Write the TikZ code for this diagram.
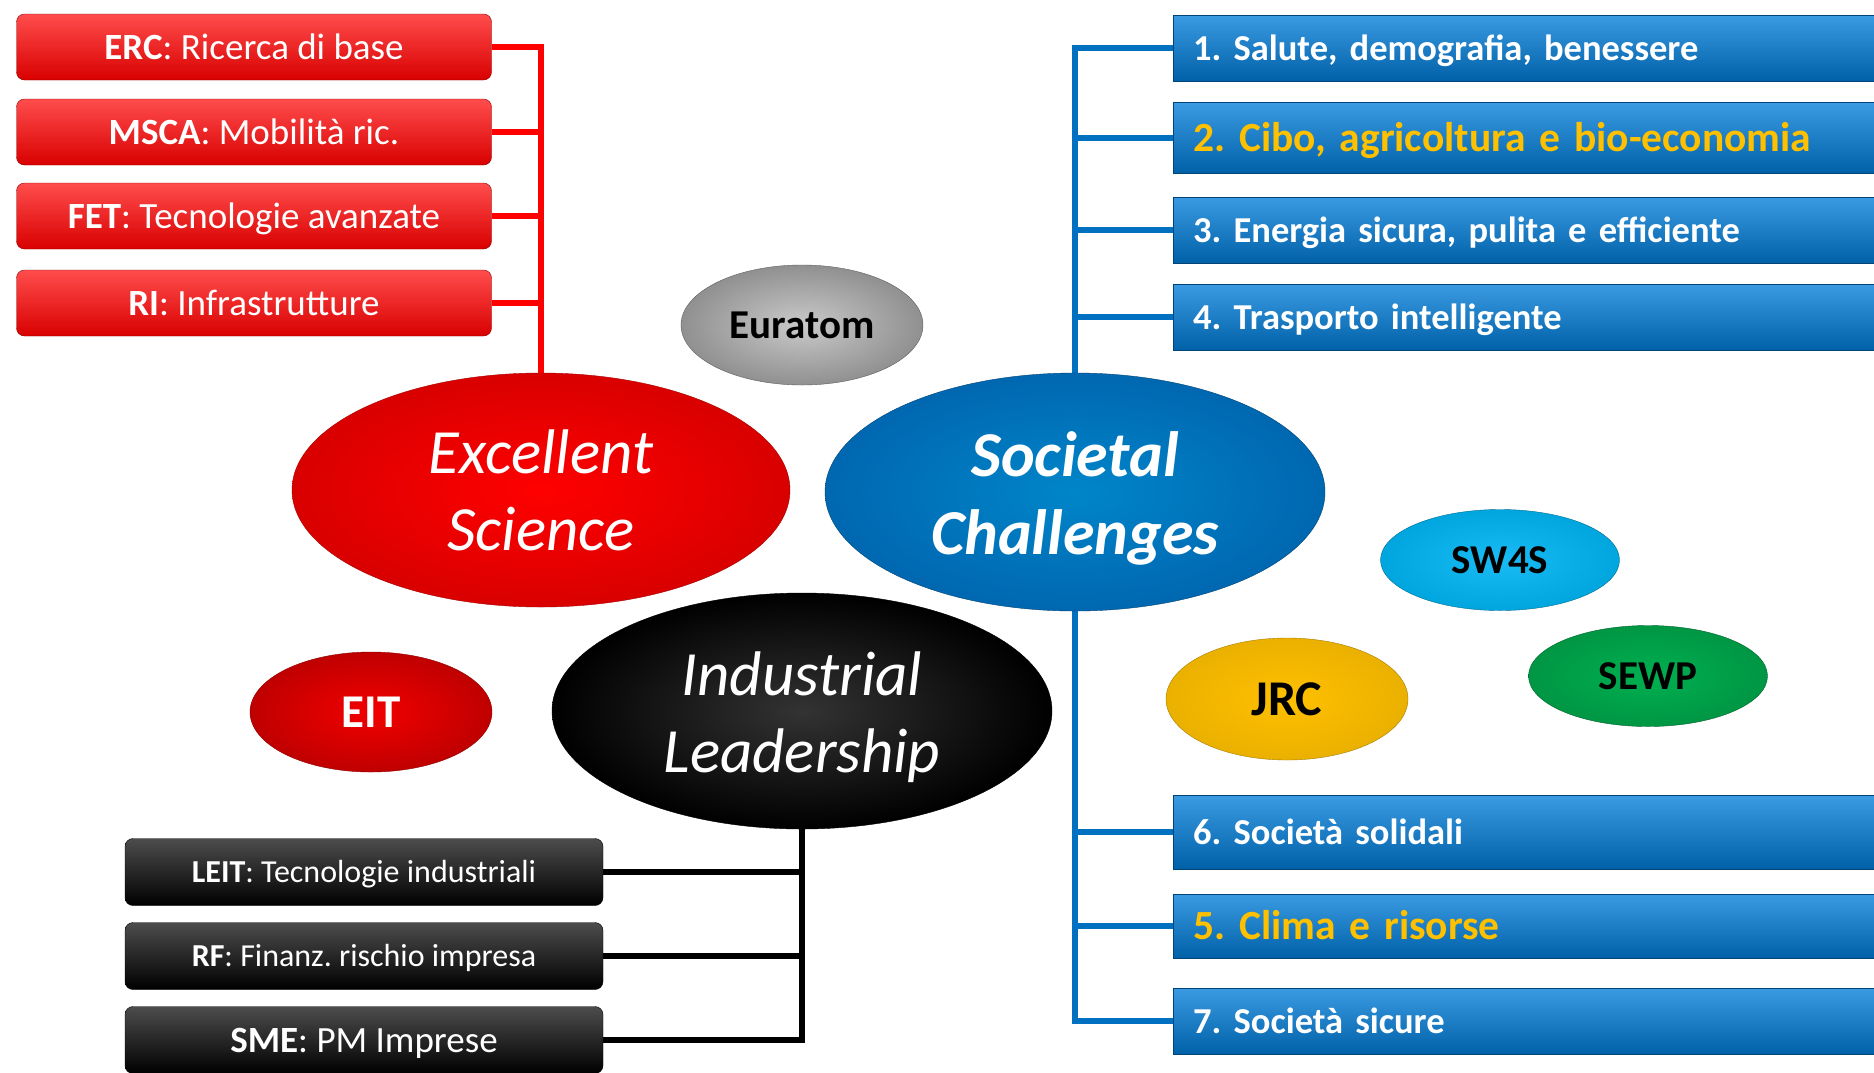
\documentclass[tikz,border=0pt]{standalone}
\usepackage{fontspec}
\setmainfont{Carlito}
\usetikzlibrary{shapes.geometric,backgrounds}
\frenchspacing

\definecolor{esred}{HTML}{FF0000}
\definecolor{scblue}{HTML}{0070C0}
\definecolor{sctop}{HTML}{3A9BE2}
\definecolor{scbot}{HTML}{0060A8}
\definecolor{hlyellow}{HTML}{FFC000}
\definecolor{swcyan}{HTML}{00B4F2}
\definecolor{jrcgold}{HTML}{FFC000}
\definecolor{sewpgreen}{HTML}{00B050}
\definecolor{eurgray}{HTML}{C0C0C0}

\tikzset{
  redbox/.style={rectangle, rounded corners=8pt, minimum width=475pt, minimum height=66pt,
    top color=esred!70!white, middle color=esred, bottom color=esred!85!black,
    draw=esred!55!black, text=white, text height=24pt, text depth=0pt,
    font=\fontsize{37}{40}\selectfont},
  blackbox/.style={rectangle, rounded corners=8pt, minimum width=478pt, minimum height=67pt,
    top color=black!70, middle color=black, bottom color=black,
    draw=black, text=white, text height=21pt, text depth=0pt,
    font=\fontsize{32}{36}\selectfont},
  bluebox/.style={rectangle, anchor=west, text width=690pt, inner xsep=20pt, align=left,
    minimum height=66pt, top color=sctop, middle color=scblue, bottom color=scbot,
    draw=scbot!70!black, text=white, text height=24pt, text depth=0pt,
    font=\fontsize{36.5}{40}\selectfont\bfseries},
  hlbox/.style={text=hlyellow, text height=27pt, font=\fontsize{41.5}{45}\selectfont\bfseries},
  bigblob/.style={ellipse, inner sep=0pt, minimum width=500pt, minimum height=236pt,
    text=white, align=center, font=\fontsize{63}{77}\selectfont\itshape},
  blob/.style={ellipse, inner sep=0pt, minimum width=242pt, minimum height=120pt,
    text=black, text height=26pt, text depth=0pt, font=\fontsize{41}{44}\selectfont\bfseries},
  esline/.style={draw=esred, line width=6pt},
  scline/.style={draw=scblue, line width=6pt},
  illine/.style={draw=black, line width=6pt}
}

\begin{document}
\begin{tikzpicture}[x=1pt,y=-1pt]
\useasboundingbox (0,0) rectangle (1874,1072);
\clip (0,0) rectangle (1874,1072);

% the three pillars
\node[bigblob, inner color=esred, outer color=esred!85!black, draw=esred!65!black,
  minimum width=498pt, minimum height=234pt] (es) at (541,490) {Excellent\\Science};
\node[bigblob, inner color=scblue!85!cyan, outer color=scblue!92!black, draw=scblue!60!black,
  font=\fontsize{64}{78}\selectfont\bfseries\itshape, minimum height=238pt] (sc) at (1075,492)
  {\rule{0pt}{58pt}Societal\\Challenges};
\node[bigblob, inner color=black!80, outer color=black, draw=black] (il) at (802,711)
  {\rule{0pt}{57pt}Industrial\\Leadership};

% small programmes
\node[blob, inner color=eurgray!85!white, outer color=eurgray!75!black, draw=eurgray!50!black] (eur) at (802,325) {Euratom};
\node[blob, inner color=esred!95!black, outer color=esred!75!black, draw=esred!55!black,
  text=white, text height=30pt, font=\fontsize{47}{50}\selectfont\bfseries] (eit) at (371,712) {EIT};
\node[blob, inner color=swcyan!90!white, outer color=swcyan!92!black, draw=swcyan!60!black,
  minimum width=239pt, minimum height=101pt] (sw4s) at (1500,560) {SW4S};
\node[blob, inner color=jrcgold, outer color=jrcgold!92!black, draw=jrcgold!65!black,
  minimum height=122pt, text height=32pt, font=\fontsize{50}{54}\selectfont\bfseries] (jrc) at (1287,699) {JRC};
\node[blob, inner color=sewpgreen, outer color=sewpgreen!85!black, draw=sewpgreen!55!black,
  minimum width=239pt, minimum height=101pt] (sewp) at (1648,676) {SEWP};

% Excellent Science
\node[redbox] (erc) at (254,47) {\textbf{ERC}: Ricerca di base};
\node[redbox] (msca) at (254,132) {\textbf{MSCA}: Mobilità ric.};
\node[redbox] (fet) at (254,216) {\textbf{FET}: Tecnologie avanzate};
\node[redbox] (ri) at (254,303) {\textbf{RI}: Infrastrutture};

% Industrial Leadership
\node[blackbox] (leit) at (364,872) {\textbf{LEIT}: Tecnologie industriali};
\node[blackbox] (rf) at (364,956) {\textbf{RF}: Finanz. rischio impresa};
\node[blackbox, text height=24pt, font=\fontsize{37}{40}\selectfont] (sme) at (364,1040) {\textbf{SME}: PM Imprese};

% Societal Challenges
\node[bluebox] (sc1) at (1173,48) {1. Salute, demografia, benessere};
\node[bluebox, hlbox, minimum height=71pt] (sc2) at (1173,138) {2. Cibo, agricoltura e bio-economia};
\node[bluebox] (sc3) at (1173,230) {3. Energia sicura, pulita e efficiente};
\node[bluebox] (sc4) at (1173,317) {4. Trasporto intelligente};
\node[bluebox, minimum height=74pt] (sc6) at (1173,832) {6. Società solidali};
\node[bluebox, hlbox, minimum height=64pt] (sc5) at (1173,926) {5. Clima e risorse};
\node[bluebox] (sc7) at (1173,1021) {7. Società sicure};

\begin{pgfonlayer}{background}
  \draw[esline] (erc.east) -| (es.center);
  \foreach \n in {msca,fet,ri}
    \draw[esline] (\n.east) -- (\n.east -| es.center);
  \draw[scline] (sc1.west) -| (sc.center);
  \draw[scline] (sc7.west) -| (sc.center);
  \foreach \n in {sc2,sc3,sc4,sc6,sc5}
    \draw[scline] (\n.west) -- (\n.west -| sc.center);
  \draw[illine] (sme.east) -| (il.center);
  \foreach \n in {leit,rf}
    \draw[illine] (\n.east) -- (\n.east -| il.center);
\end{pgfonlayer}
\end{tikzpicture}
\end{document}
